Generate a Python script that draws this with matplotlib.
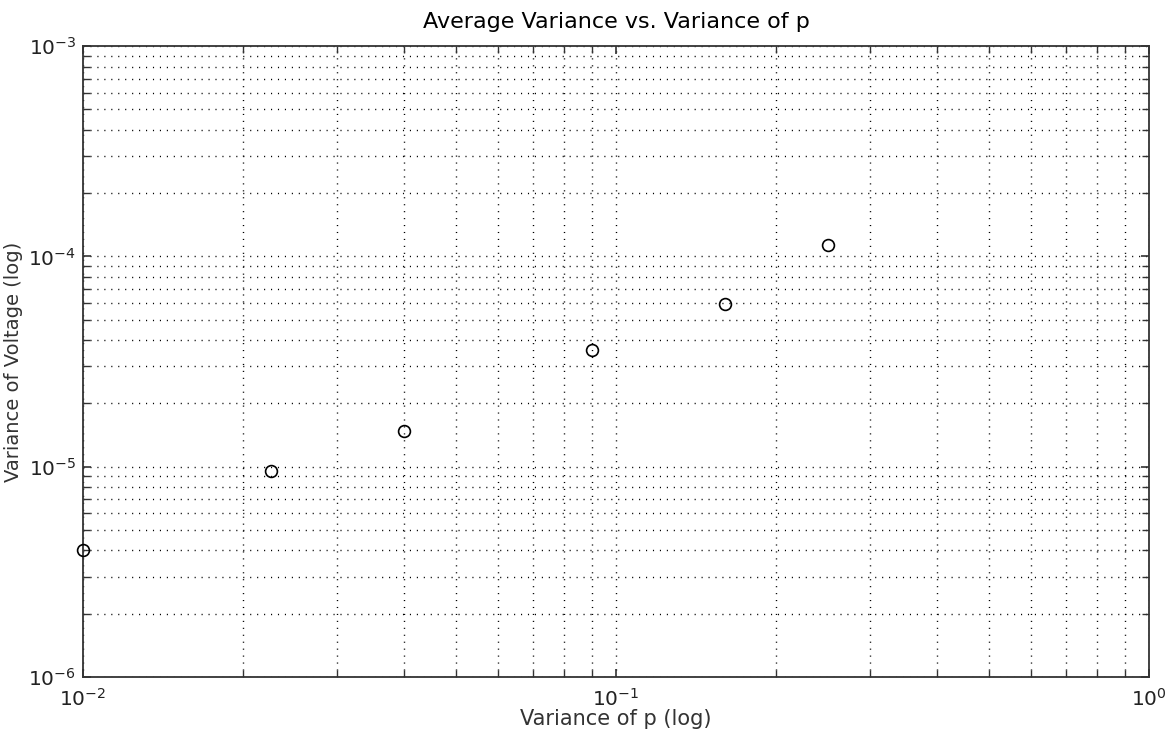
import matplotlib.pyplot as plt
from matplotlib.ticker import LogLocator, NullFormatter

# variance of p and average variance of voltage
var_p = [0.01, 0.0225, 0.04, 0.09, 0.16, 0.25]
var_v = [4.0e-6, 9.5e-6, 1.48e-5, 3.6e-5, 5.95e-5, 1.13e-4]

plt.rcParams['font.family'] = ['DejaVu Sans']
plt.rcParams['mathtext.fontset'] = 'dejavusans'

fig = plt.figure(figsize=(11.71, 7.44), dpi=100)
ax = fig.add_axes([0.0709, 0.090, 0.9103, 0.848])

ax.plot(var_p, var_v, 'o', markerfacecolor='none', markeredgecolor='black',
        markersize=8.5, markeredgewidth=1.2, clip_on=False, zorder=5)

ax.set_xscale('log')
ax.set_yscale('log')
ax.set_xlim(1e-2, 1e0)
ax.set_ylim(1e-6, 1e-3)

ax.xaxis.set_major_locator(LogLocator(base=10, numticks=10))
ax.yaxis.set_major_locator(LogLocator(base=10, numticks=10))
ax.xaxis.set_minor_locator(LogLocator(base=10, subs=range(2, 10), numticks=20))
ax.yaxis.set_minor_locator(LogLocator(base=10, subs=range(2, 10), numticks=20))
ax.xaxis.set_minor_formatter(NullFormatter())
ax.yaxis.set_minor_formatter(NullFormatter())

# sparse dotted grid on major and minor decades
ax.grid(True, which='both', linestyle=(0, (0.8, 4.2)), color='black', linewidth=1.0)
ax.tick_params(which='both', direction='in', top=True, right=True, labelsize=14.5,
               color='#333333', labelcolor='#222222')
ax.tick_params(which='major', length=6, width=1.2)
ax.tick_params(which='minor', length=5, width=1.0)
ax.tick_params(axis='x', pad=8)
ax.tick_params(axis='y', pad=5)
for s in ax.spines.values():
    s.set_linewidth(1.3)
    s.set_color('#333333')

ax.set_title('Average Variance vs. Variance of p', fontsize=16, pad=13)
ax.set_xlabel('Variance of p (log)', fontsize=15, color='#333333', labelpad=-1)
ax.set_ylabel('Variance of Voltage (log)', fontsize=14, color='#333333', labelpad=4)

fig.savefig('out.png', dpi=100)
